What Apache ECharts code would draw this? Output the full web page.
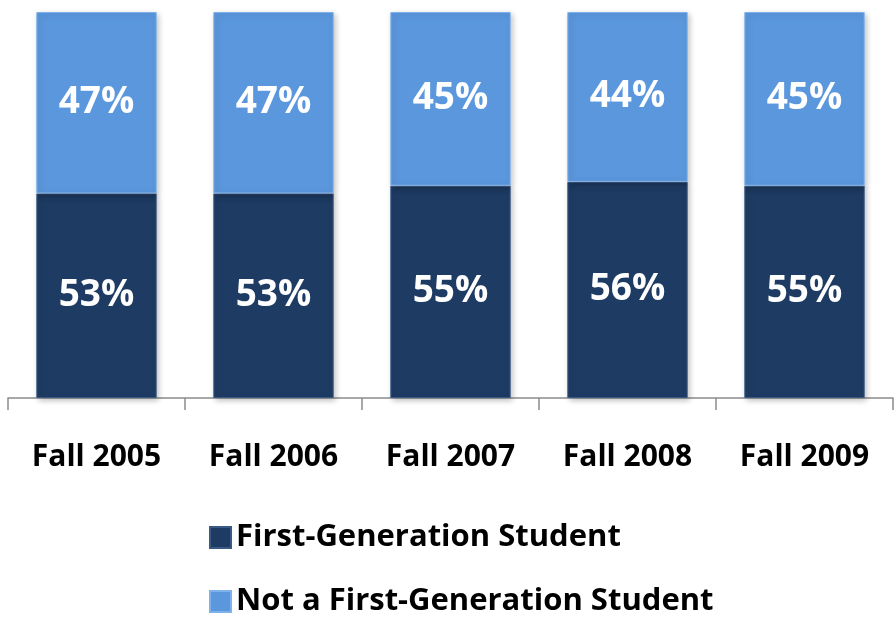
<!DOCTYPE html>
<html>
<head>
<meta charset="utf-8">
<script src="https://cdn.jsdelivr.net/npm/echarts@6/dist/echarts.min.js"></script>
<style>
  html, body { margin: 0; padding: 0; background: #fff; }
  #chart { width: 895px; height: 620px; }
</style>
</head>
<body>
<div id="chart"></div>
<script>
const terms = ['Fall 2005', 'Fall 2006', 'Fall 2007', 'Fall 2008', 'Fall 2009'];
const firstGen = [53, 53, 55, 56, 55];
const notFirstGen = [47, 47, 45, 44, 45];

const chart = echarts.init(document.getElementById('chart'));

const barLabel = {
    show: true,
    position: 'inside',
    formatter: '{c}%',
    color: '#fff',
    fontFamily: 'Open Sans',
    fontWeight: 'bold',
    fontSize: 37
};

chart.setOption({
    animation: false,
    textStyle: { fontFamily: 'Open Sans' },
    grid: { left: 8, right: 2, top: 12, bottom: 222 },
    legend: {
        orient: 'vertical',
        left: 204,
        top: 517,
        height: 140,
        itemGap: 33,
        itemWidth: 21,
        itemHeight: 21,
        icon: 'rect',
        textStyle: { fontSize: 31, lineHeight: 31, fontWeight: 'bold', color: '#000', fontFamily: 'Open Sans' },
        data: ['First-Generation Student', 'Not a First-Generation Student']
    },
    xAxis: {
        type: 'category',
        data: terms,
        axisLine: { lineStyle: { color: '#8c8c8c', width: 1.5 } },
        axisTick: { show: true, length: 12, lineStyle: { color: '#8c8c8c', width: 1.5 } },
        axisLabel: { fontSize: 30, fontWeight: 'bold', color: '#000', margin: 44 }
    },
    yAxis: {
        type: 'value',
        min: 0,
        max: 100,
        show: false,
        splitLine: { show: false }
    },
    series: [{
        name: 'First-Generation Student',
        type: 'bar',
        stack: 'total',
        barWidth: '68%',
        data: firstGen,
        label: barLabel,
        itemStyle: {
            color: '#1e3b63',
            borderColor: '#3a5a86',
            borderWidth: 1,
            shadowBlur: 6,
            shadowOffsetX: 2,
            shadowOffsetY: 2,
            shadowColor: 'rgba(0,0,0,0.25)'
        }
    }, {
        name: 'Not a First-Generation Student',
        type: 'bar',
        stack: 'total',
        data: notFirstGen,
        label: barLabel,
        itemStyle: {
            color: '#5b97dd',
            borderColor: '#7fb2ea',
            borderWidth: 1,
            shadowBlur: 6,
            shadowOffsetX: 2,
            shadowOffsetY: 2,
            shadowColor: 'rgba(0,0,0,0.25)'
        }
    }]
});
</script>
</body>
</html>
